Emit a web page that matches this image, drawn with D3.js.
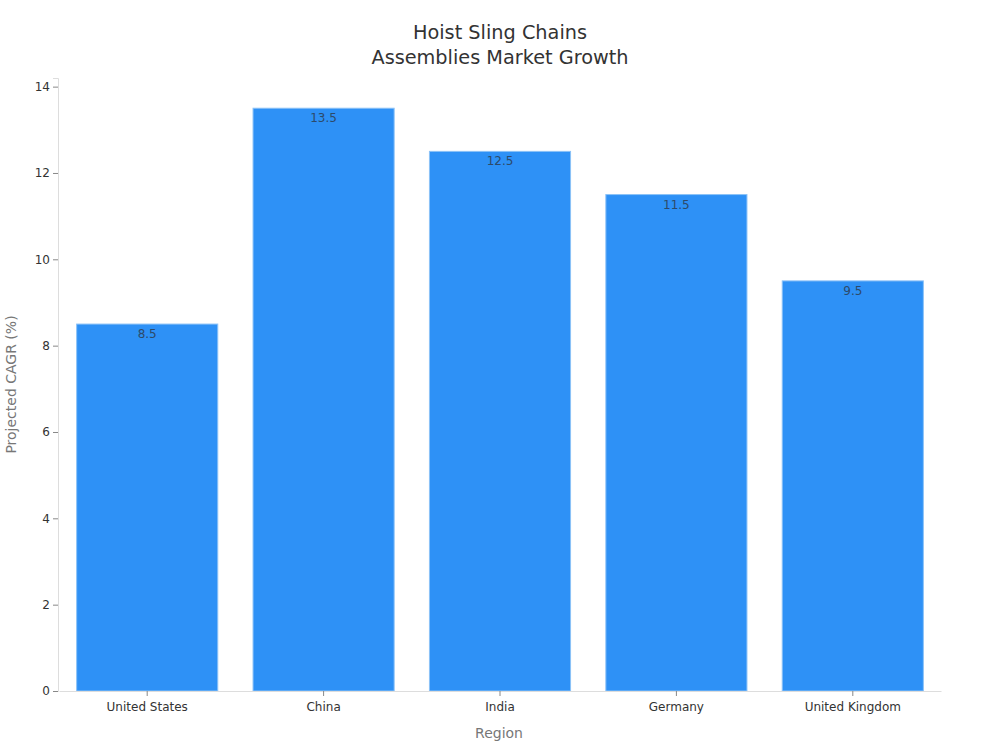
<!DOCTYPE html>
<html>
<head>
<meta charset="utf-8">
<script src="https://cdn.jsdelivr.net/npm/d3@7"></script>
<style>
    body { margin: 0; background: #fff; }
    text { font-family: "DejaVu Sans", sans-serif; }
</style>
</head>
<body>
<svg id="chart" width="1000" height="750"></svg>
<script>
const regions = ["United States", "China", "India", "Germany", "United Kingdom"]
const cagr = [8.5, 13.5, 12.5, 11.5, 9.5]
const yTickValues = [0, 2, 4, 6, 8, 10, 12, 14]
const titleLines = ["Hoist Sling Chains", "Assemblies Market Growth"]

const margin = {top: 78, right: 60, bottom: 59, left: 58},
    width = 1000 - margin.left - margin.right,
    height = 750 - margin.top - margin.bottom

const svg = d3.select("#chart")
const g = svg.append("g")
    .attr("transform", "translate(" + margin.left + "," + margin.top + ")")

const x = d3.scaleBand()
    .domain(regions)
    .range([1, width + 1])
    .paddingInner(0.2)
    .paddingOuter(0.1)

const y = d3.scaleLinear()
    .domain([0, 14.2])
    .range([height, 0])

// bars
g.selectAll("rect.bar")
    .data(regions)
    .enter()
    .append("rect")
    .attr("class", "bar")
    .attr("x", d => x(d))
    .attr("y", (d, i) => y(cagr[i]))
    .attr("width", x.bandwidth())
    .attr("height", (d, i) => height - y(cagr[i]))
    .attr("fill", "#2e91f6")
    .attr("stroke", "#8cc2f7")
    .attr("stroke-width", 1)

// value labels
g.selectAll("text.val")
    .data(regions)
    .enter()
    .append("text")
    .attr("class", "val")
    .attr("x", d => x(d) + x.bandwidth() / 2)
    .attr("y", (d, i) => y(cagr[i]) + 14)
    .attr("text-anchor", "middle")
    .style("font-size", "12px")
    .style("fill", "#2d4a6a")
    .text((d, i) => cagr[i])

// y axis
const yAxis = g.append("g")
    .call(d3.axisLeft(y).tickValues(yTickValues).tickSize(5).tickPadding(3))
yAxis.select(".domain").attr("stroke", "#ddd")
yAxis.selectAll(".tick line").attr("stroke", "#888")
yAxis.selectAll(".tick text").style("font-size", "12px").style("fill", "#333")

// x axis
const xAxis = g.append("g")
    .attr("transform", "translate(0," + height + ")")
    .call(d3.axisBottom(x).tickSize(5).tickPadding(6).tickSizeOuter(0))
xAxis.select(".domain").attr("stroke", "#ddd")
xAxis.selectAll(".tick line").attr("stroke", "#888")
xAxis.selectAll(".tick text").style("font-size", "12px").style("fill", "#333")

// axis titles
svg.append("text")
    .attr("x", margin.left + width / 2)
    .attr("y", 738)
    .attr("text-anchor", "middle")
    .style("font-size", "14px")
    .style("fill", "#777")
    .text("Region")

svg.append("text")
    .attr("transform", "translate(16," + (margin.top + height / 2) + ") rotate(-90)")
    .attr("text-anchor", "middle")
    .style("font-size", "14px")
    .style("fill", "#777")
    .text("Projected CAGR (%)")

// title
svg.append("g").selectAll("text")
    .data(titleLines)
    .enter()
    .append("text")
    .attr("x", 500)
    .attr("y", (d, i) => 39 + i * 25)
    .attr("text-anchor", "middle")
    .style("font-size", "19.3px")
    .style("fill", "#333")
    .text(d => d)
</script>
</body>
</html>
